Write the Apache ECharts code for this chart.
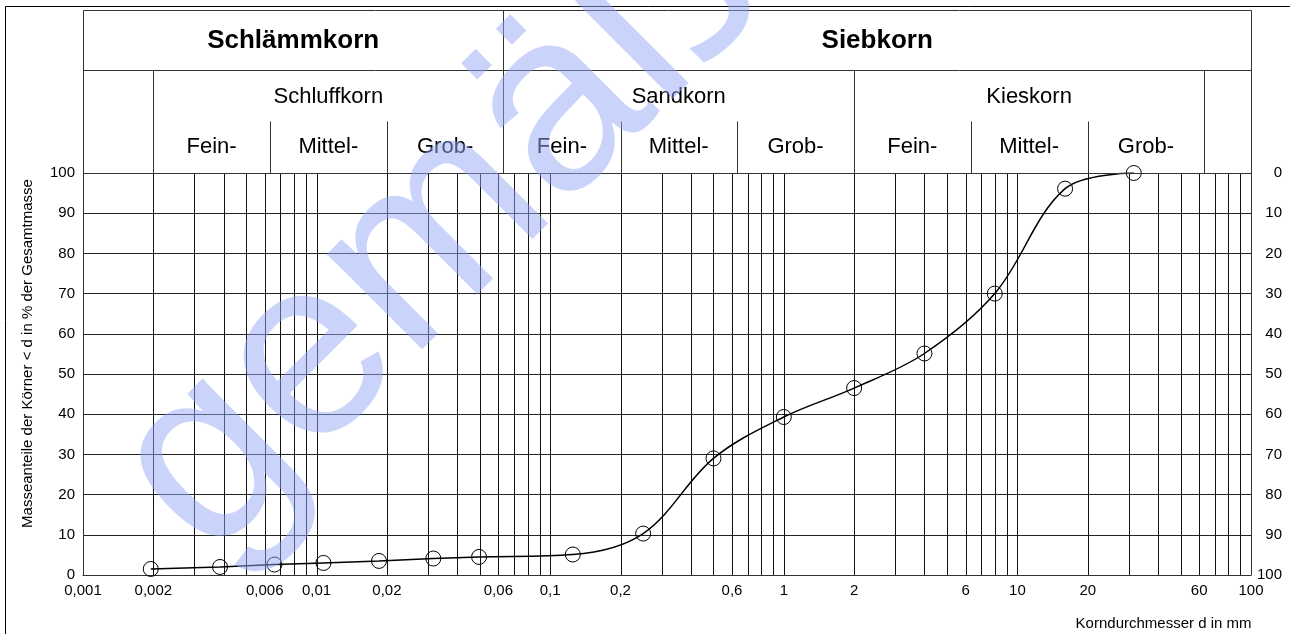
<!DOCTYPE html>
<html>
<head>
<meta charset="utf-8">
<script src="https://cdn.jsdelivr.net/npm/echarts@6/dist/echarts.min.js"></script>
<style>
  html, body { margin: 0; padding: 0; background: #fff; }
  #chart { width: 1290px; height: 634px; }
</style>
</head>
<body>
<div id="chart"></div>
<script>
// Körnungslinie: Schlämm- und Siebanalyse
const grainSizes = [0.00195, 0.00386, 0.0066, 0.0107, 0.0185, 0.0316, 0.0496, 0.125, 0.25, 0.5, 1, 2, 4, 8, 16, 31.5];
const passingPercent = [1.5, 2.0, 2.6, 3.0, 3.5, 4.1, 4.5, 5.1, 10.3, 29.0, 39.3, 46.5, 55.1, 70.0, 96.1, 100];

// beschriftete Korndurchmesser auf der x-Achse
const xTickLabels = [0.001, 0.002, 0.006, 0.01, 0.02, 0.06, 0.1, 0.2, 0.6, 1, 2, 6, 10, 20, 60, 100];
// senkrechte Rasterlinien des Körnungsnetzes
const xGridValues = [
  0.002, 0.003, 0.004, 0.005, 0.006, 0.007, 0.008, 0.009, 0.01,
  0.02, 0.03, 0.04, 0.05, 0.06, 0.07, 0.08, 0.09, 0.1,
  0.2, 0.3, 0.4, 0.5, 0.6, 0.7, 0.8, 0.9, 1,
  2, 3, 4, 5, 6, 7, 8, 9, 10,
  20, 30, 40, 50, 60, 70, 80, 90
];

// Kopftabelle der Bodenarten
const mainFractions = ['Schlämmkorn', 'Siebkorn'];
const mainBounds = [0.001, 0.063, 100];
const soilTypes = ['Schluffkorn', 'Sandkorn', 'Kieskorn'];
const soilBounds = [0.002, 0.063, 2, 63];
const subGrades = ['Fein-', 'Mittel-', 'Grob-'];
const subBounds = [0.002, 0.0063, 0.02, 0.063, 0.2, 0.63, 2, 6.3, 20, 63];

const FONT = '"Liberation Sans", Arial, sans-serif';
const fmtDe = v => parseFloat(Number(v).toPrecision(6)).toString().replace('.', ',');

const chart = echarts.init(document.getElementById('chart'), null, { renderer: 'canvas' });

chart.setOption({
  animation: false,
  backgroundColor: '#fff',
  textStyle: { fontFamily: FONT, color: '#000' },
  grid: { left: 83, right: 39, top: 173, bottom: 59, outerBoundsMode: 'none', containLabel: false },
  xAxis: {
    type: 'log',
    logBase: 10,
    min: 0.001,
    max: 100,
    axisLine: { show: true, lineStyle: { color: '#333', width: 1 } },
    axisTick: { show: false },
    splitLine: { show: false },
    axisLabel: {
      customValues: xTickLabels,
      formatter: fmtDe,
      fontSize: 15,
      color: '#000',
      margin: 8,
      hideOverlap: false
    }
  },
  yAxis: [
    {
      type: 'value',
      min: 0,
      max: 100,
      interval: 10,
      name: 'Masseanteile der Körner < d in % der Gesamtmasse',
      nameLocation: 'middle',
      nameGap: 48,
      nameTextStyle: { fontSize: 15, color: '#000', padding: [0, 0, 0, 41] },
      axisLine: { show: true, lineStyle: { color: '#333', width: 1 } },
      axisTick: { show: false },
      splitLine: { show: true, lineStyle: { color: '#222', width: 1 } },
      axisLabel: { fontSize: 15, color: '#000', margin: 8 }
    },
    {
      type: 'value',
      position: 'right',
      inverse: true,
      min: 0,
      max: 100,
      interval: 10,
      axisLine: { show: true, lineStyle: { color: '#333', width: 1 } },
      axisTick: { show: false },
      splitLine: { show: false },
      axisLabel: { fontSize: 15, color: '#000', margin: 31, align: 'right' }
    }
  ],
  series: [
    {
      // senkrechte Rasterlinien, über die Achsenskala positioniert
      type: 'custom',
      name: 'Raster',
      silent: true,
      z: 1,
      data: xGridValues.map(v => [v, 0]),
      encode: { x: 0, y: 1 },
      renderItem: (params, api) => {
        const v = api.value(0);
        const top = api.coord([v, 100]);
        const bottom = api.coord([v, 0]);
        const x = Math.round(top[0]) + 0.5;
        return {
          type: 'line',
          silent: true,
          shape: { x1: x, y1: top[1], x2: x, y2: bottom[1] },
          style: { stroke: '#111', lineWidth: 1 }
        };
      }
    },
    {
      type: 'line',
      name: 'Sieblinie',
      data: grainSizes.map((d, i) => [d, passingPercent[i]]),
      smooth: 0.35,
      symbol: 'circle',
      symbolSize: 15,
      showAllSymbol: true,
      z: 5,
      lineStyle: { color: '#000', width: 1.5 },
      itemStyle: { color: 'rgba(0,0,0,0)', borderColor: '#000', borderWidth: 1 },
      emphasis: { disabled: true }
    }
  ]
});

// Kopftabelle, Rahmen und Achsentitel über der Zeichenfläche
function buildOverlay() {
  const px = v => chart.convertToPixel({ xAxisIndex: 0 }, v);
  const crisp = v => Math.round(v) + 0.5;
  const yPlotTop = crisp(chart.convertToPixel({ yAxisIndex: 0 }, 100));
  const xL = crisp(px(mainBounds[0]));
  const xR = crisp(px(mainBounds[mainBounds.length - 1]));
  const rowTop = 10.5, rowMid = 70.5, rowSub = 121.5;
  const stroke = { stroke: '#333', lineWidth: 1 };
  const els = [];
  const line = (x1, y1, x2, y2) => ({ type: 'line', silent: true, z: 10, shape: { x1, y1, x2, y2 }, style: stroke });
  const text = (x, y, str, font) => ({
    type: 'text', silent: true, z: 11, x, y,
    style: { text: str, font, fill: '#000', align: 'center', verticalAlign: 'middle' }
  });
  const mid = (a, b) => (px(a) + px(b)) / 2;

  // äußerer Rahmen
  els.push({ type: 'polyline', silent: true, z: 10,
    shape: { points: [[5.5, 640], [5.5, 6.5], [1295, 6.5]] },
    style: { stroke: '#000', lineWidth: 1, fill: null } });

  // Tabellenrahmen
  els.push({ type: 'rect', silent: true, z: 10,
    shape: { x: xL, y: rowTop, width: xR - xL, height: yPlotTop - rowTop },
    style: { stroke: '#333', lineWidth: 1, fill: null } });
  els.push(line(xL, rowMid, xR, rowMid));

  // Schlämmkorn | Siebkorn
  els.push(line(crisp(px(mainBounds[1])), rowTop, crisp(px(mainBounds[1])), yPlotTop));
  mainFractions.forEach((name, i) => {
    els.push(text(mid(mainBounds[i], mainBounds[i + 1]), 41, name, 'bold 26px ' + FONT));
  });

  // Schluff-, Sand-, Kieskorn
  soilBounds.forEach(v => els.push(line(crisp(px(v)), rowMid, crisp(px(v)), yPlotTop)));
  soilTypes.forEach((name, i) => {
    els.push(text(mid(soilBounds[i], soilBounds[i + 1]), 97, name, '22px ' + FONT));
  });

  // Fein- / Mittel- / Grob-
  subBounds.forEach(v => els.push(line(crisp(px(v)), rowSub, crisp(px(v)), yPlotTop)));
  for (let i = 0; i < subBounds.length - 1; i++) {
    els.push(text(mid(subBounds[i], subBounds[i + 1]), 147, subGrades[i % 3], '22px ' + FONT));
  }

  // Titel der x-Achse
  els.push({ type: 'text', silent: true, z: 11, x: xR, y: 624,
    style: { text: 'Korndurchmesser d in mm', font: '15px ' + FONT, fill: '#000', align: 'right', verticalAlign: 'middle' } });

  // Schriftzug quer über dem Diagramm
  els.push({ type: 'text', silent: true, z: 100, x: 440, y: 232, rotation: 45 * Math.PI / 180,
    style: { text: 'gemäß', font: '255px ' + FONT, fill: 'rgba(150,170,248,0.5)', align: 'center', verticalAlign: 'middle' } });

  chart.setOption({ graphic: { elements: els } });
}
buildOverlay();
</script>
</body>
</html>
